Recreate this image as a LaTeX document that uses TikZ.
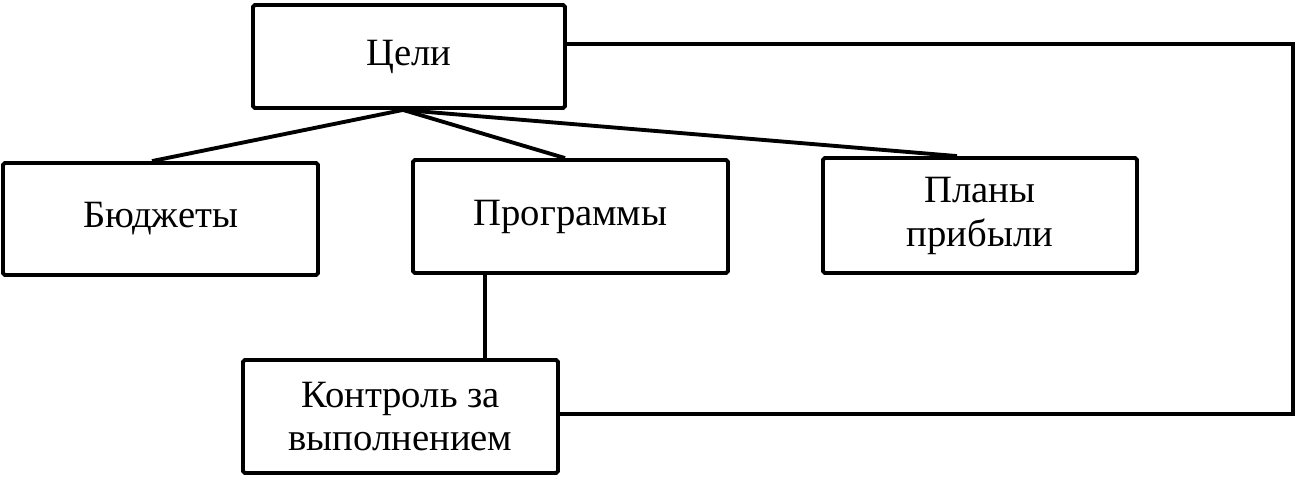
\documentclass[tikz,border=0pt]{standalone}
\usepackage{fontspec}
\setmainfont{Liberation Serif}
\begin{document}
\begin{tikzpicture}[x=0.02cm,y=-0.02cm,
  box/.style={draw,line width=2.2pt,rounded corners=1pt,align=center,
    font=\fontsize{22}{25}\selectfont,inner sep=0pt},
  conn/.style={line width=2.2pt}]
\useasboundingbox (0,0) rectangle (1300,480);
\node[box,minimum width=6.24cm,minimum height=2.06cm] (c) at (409,56.5) {Цели};
\node[box,minimum width=6.30cm,minimum height=2.24cm] (b) at (160.5,219) {Бюджеты};
\node[box,minimum width=6.30cm,minimum height=2.26cm] (p) at (570.5,216.5) {Программы};
\node[box,minimum width=6.28cm,minimum height=2.30cm] (pl) at (980,215.5) {Планы\\прибыли};
\node[box,minimum width=6.30cm,minimum height=2.26cm] (k) at (400.5,416.5) {Контроль за\\выполнением};
\coordinate (fb) at (1293,44);
\draw[conn] ([xshift=-0.12cm]c.south) -- ([xshift=-0.17cm]b.north);
\draw[conn] ([xshift=-0.12cm]c.south) -- ([xshift=-0.11cm]p.north);
\draw[conn] ([xshift=-0.12cm]c.south) -- ([xshift=-0.46cm]pl.north);
\draw[conn] ([xshift=-1.71cm]p.south) -- ([xshift=-1.71cm]p.south |- k.north);
\draw[conn] ([yshift=0.05cm]k.east) -- ([yshift=0.05cm]k.east -| fb) -- (fb) -- ([yshift=0.25cm]c.east);
\end{tikzpicture}
\end{document}
